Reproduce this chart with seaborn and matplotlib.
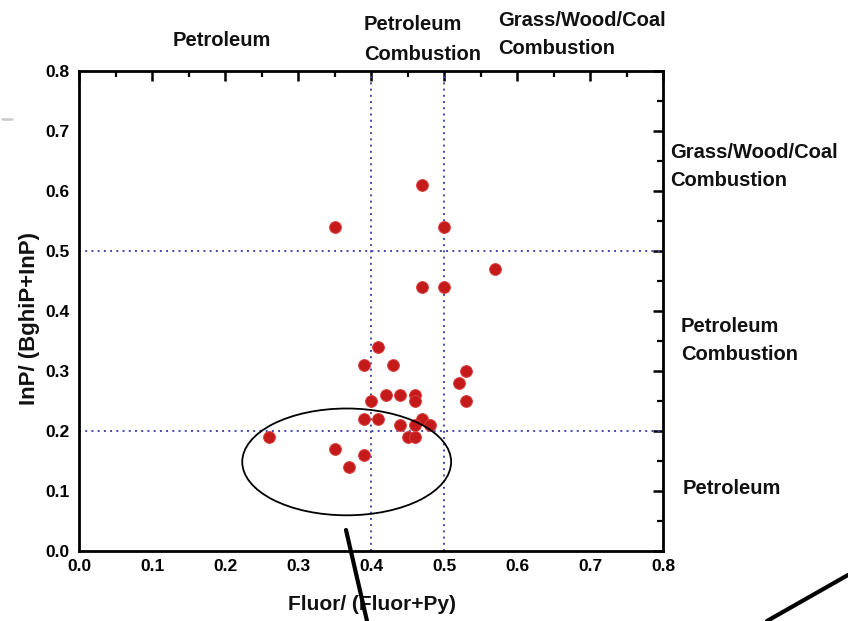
import matplotlib
matplotlib.use("Agg")
import matplotlib.pyplot as plt
from matplotlib.patches import Ellipse
from matplotlib.lines import Line2D
from matplotlib.ticker import MultipleLocator
import seaborn as sns
import pandas as pd

# ---- data ----
fluor_ratio = [0.41, 0.39, 0.43, 0.53, 0.52, 0.53, 0.40, 0.42, 0.44, 0.46,
               0.46, 0.39, 0.41, 0.47, 0.48, 0.44, 0.46, 0.45, 0.46, 0.26,
               0.35, 0.39, 0.37, 0.47, 0.35, 0.50, 0.57, 0.47, 0.50]
inp_ratio = [0.34, 0.31, 0.31, 0.30, 0.28, 0.25, 0.25, 0.26, 0.26, 0.26,
             0.25, 0.22, 0.22, 0.22, 0.21, 0.21, 0.21, 0.19, 0.19, 0.19,
             0.17, 0.16, 0.14, 0.61, 0.54, 0.54, 0.47, 0.44, 0.44]
x_ticks = [0.0, 0.1, 0.2, 0.3, 0.4, 0.5, 0.6, 0.7, 0.8]
x_tick_labels = ["0.0", "0.1", "0.2", "0.3", "0.4", "0.5", "0.6", "0.7", "0.8"]
y_ticks = [0.0, 0.1, 0.2, 0.3, 0.4, 0.5, 0.6, 0.7, 0.8]
y_tick_labels = ["0.0", "0.1", "0.2", "0.3", "0.4", "0.5", "0.6", "0.7", "0.8"]
x_thresholds = [0.4, 0.5]
y_thresholds = [0.2, 0.5]
x_label = "Fluor/ (Fluor+Py)"
y_label = "InP/ (BghiP+InP)"

df = pd.DataFrame({"fluor": fluor_ratio, "inp": inp_ratio})

sns.set_style("white")
plt.rcParams["font.family"] = ["Liberation Sans", "DejaVu Sans"]
plt.rcParams["font.weight"] = "bold"

fig = plt.figure(figsize=(8.48, 6.21), dpi=100)
W, H = 848.0, 621.0
ax = fig.add_axes([79 / W, 1 - 550.7 / H, (663.3 - 79) / W, (550.7 - 70.7) / H])

for xv in x_thresholds:
    ax.axvline(xv, color="#4646b4", linestyle=(0, (1, 2.2)), linewidth=1.4, zorder=1)
for yv in y_thresholds:
    ax.axhline(yv, color="#4646b4", linestyle=(0, (1, 2.2)), linewidth=1.4, zorder=1)

sns.scatterplot(data=df, x="fluor", y="inp", ax=ax, color="#c41a1a",
                s=72, edgecolor="#d84040", linewidth=0.7, zorder=3, legend=False)

ax.add_patch(Ellipse((0.3665, 0.148), 0.286, 0.178, fill=False,
                     edgecolor="black", linewidth=1.3, zorder=4))

ax.set_xlim(0, 0.8)
ax.set_ylim(0, 0.8)
ax.set_xticks(x_ticks, labels=x_tick_labels, fontweight="bold", fontsize=12.5)
ax.set_yticks(y_ticks, labels=y_tick_labels, fontweight="bold", fontsize=12.5)
ax.xaxis.set_minor_locator(MultipleLocator(0.05))
ax.yaxis.set_minor_locator(MultipleLocator(0.05))
ax.tick_params(which="major", direction="in", length=7, width=1.8,
               top=True, right=True, colors="black", pad=6)
ax.tick_params(which="minor", direction="in", length=4, width=1.6,
               top=True, right=True, colors="black")
ax.tick_params(axis="y", which="major", pad=7)
for sp in ax.spines.values():
    sp.set_linewidth(2)
    sp.set_color("black")
ax.set_xlabel("")
ax.set_ylabel("")

def ftext(px, py, s, ha="left", size=14.5, rot=0):
    fig.text(px / W, 1 - py / H, s, ha=ha, va="center", fontsize=size,
             fontweight="bold", rotation=rot, color="#111111")

# axis labels
ftext(372, 604, x_label, ha="center", size=15)
ftext(30, 318, y_label, ha="center", size=16, rot=90)

# top region labels
ftext(222, 40, "Petroleum", ha="center")
ftext(364, 25, "Petroleum")
ftext(364, 55, "Combustion")
ftext(498, 21, "Grass/Wood/Coal")
ftext(498, 49, "Combustion")

# right region labels
ftext(670, 152, "Grass/Wood/Coal")
ftext(670, 181, "Combustion")
ftext(681, 327, "Petroleum")
ftext(681, 355, "Combustion")
ftext(683, 488, "Petroleum")

# pointer lines and small mark (figure coordinates)
fig.add_artist(Line2D([346 / W, 367 / W], [1 - 530 / H, 1 - 621 / H],
                      color="black", linewidth=3, zorder=10))
fig.add_artist(Line2D([848 / W, 767 / W], [1 - 575 / H, 1 - 621 / H],
                      color="black", linewidth=3, zorder=10))
fig.add_artist(Line2D([2 / W, 12 / W], [1 - 119 / H, 1 - 119 / H],
                      color="#c8c8c8", linewidth=1.8, zorder=10))

fig.savefig("out.png", dpi=100, facecolor="white")
